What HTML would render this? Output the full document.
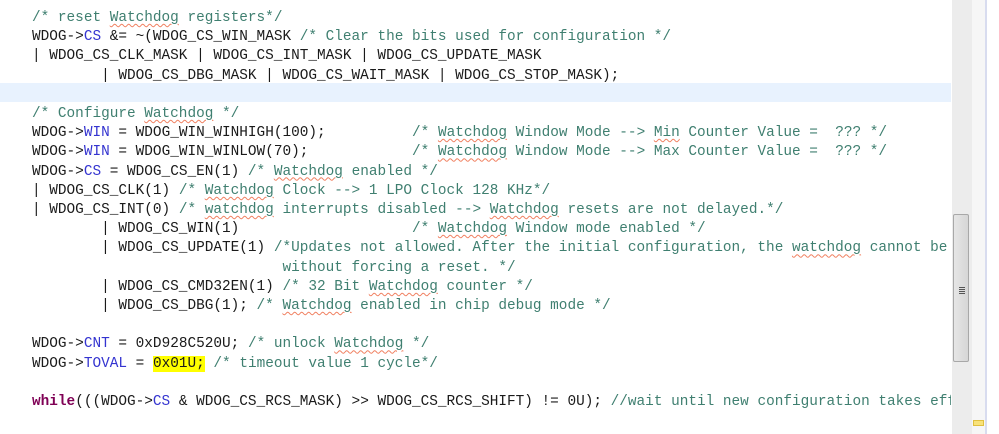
<!DOCTYPE html>
<html><head><meta charset="utf-8"><style>
html,body{margin:0;padding:0;width:999px;height:434px;overflow:hidden;background:#fff;}
.ed{position:absolute;left:0;top:0;width:951px;height:434px;overflow:hidden;}
.hl{position:absolute;left:0;top:83px;width:951px;height:19px;background:#e8f2fe;}
pre{position:absolute;left:32px;top:9px;margin:0;font-family:"Liberation Mono",monospace;font-size:14.4px;line-height:19.2px;color:#1a1a1a;white-space:pre;}
.c{color:#3f7f70;}
.f{color:#3434d0;}
.k{color:#7f0055;font-weight:bold;}
.s{text-decoration:underline wavy #f08060;text-decoration-thickness:1px;text-underline-offset:2px;}
.y{background:#ffff00;}
.trk{position:absolute;left:952px;top:0;width:20px;height:434px;background:#ececec;}
.th{position:absolute;left:953px;top:214px;width:16px;height:148px;background:linear-gradient(90deg,#e6e6e6,#d6d6d6);border:1px solid #a8a8a8;border-radius:2px;box-sizing:border-box;}
.g{position:absolute;left:972px;top:0;width:13px;height:434px;background:#f6f6f6;}
.ln{position:absolute;left:985px;top:0;width:2px;height:434px;background:#d8dcef;}
.gr{position:absolute;left:959px;top:287px;width:6px;height:1px;background:#555;box-shadow:0 2px 0 #555,0 4px 0 #555,0 6px 0 #555;}
.mk{position:absolute;left:973px;top:420px;width:9px;height:4px;background:#f8e27a;border:1px solid #e0c040;}
</style></head><body>
<div class="ed"><div class="hl"></div>
<pre><span class="c">/* reset <span class="s">Watchdog</span> registers*/</span>
WDOG-&gt;<span class="f">CS</span> &amp;= ~(WDOG_CS_WIN_MASK <span class="c">/* Clear the bits used for configuration */</span>
| WDOG_CS_CLK_MASK | WDOG_CS_INT_MASK | WDOG_CS_UPDATE_MASK
        | WDOG_CS_DBG_MASK | WDOG_CS_WAIT_MASK | WDOG_CS_STOP_MASK);

<span class="c">/* Configure <span class="s">Watchdog</span> */</span>
WDOG-&gt;<span class="f">WIN</span> = WDOG_WIN_WINHIGH(100);          <span class="c">/* <span class="s">Watchdog</span> Window Mode --&gt; <span class="s">Min</span> Counter Value =  ??? */</span>
WDOG-&gt;<span class="f">WIN</span> = WDOG_WIN_WINLOW(70);            <span class="c">/* <span class="s">Watchdog</span> Window Mode --&gt; Max Counter Value =  ??? */</span>
WDOG-&gt;<span class="f">CS</span> = WDOG_CS_EN(1) <span class="c">/* <span class="s">Watchdog</span> enabled */</span>
| WDOG_CS_CLK(1) <span class="c">/* <span class="s">Watchdog</span> Clock --&gt; 1 LPO Clock 128 KHz*/</span>
| WDOG_CS_INT(0) <span class="c">/* <span class="s">watchdog</span> interrupts disabled --&gt; <span class="s">Watchdog</span> resets are not delayed.*/</span>
        | WDOG_CS_WIN(1)                    <span class="c">/* <span class="s">Watchdog</span> Window mode enabled */</span>
        | WDOG_CS_UPDATE(1) <span class="c">/*Updates not allowed. After the initial configuration, the <span class="s">watchdog</span> cannot be later modified</span>
<span class="c">                             without forcing a reset. */</span>
        | WDOG_CS_CMD32EN(1) <span class="c">/* 32 Bit <span class="s">Watchdog</span> counter */</span>
        | WDOG_CS_DBG(1); <span class="c">/* <span class="s">Watchdog</span> enabled in chip debug mode */</span>

WDOG-&gt;<span class="f">CNT</span> = 0xD928C520U; <span class="c">/* unlock <span class="s">Watchdog</span> */</span>
WDOG-&gt;<span class="f">TOVAL</span> = <span class="y">0x01U;</span> <span class="c">/* timeout value 1 cycle*/</span>

<span class="k">while</span>(((WDOG-&gt;<span class="f">CS</span> &amp; WDOG_CS_RCS_MASK) &gt;&gt; WDOG_CS_RCS_SHIFT) != 0U); <span class="c">//wait until new configuration takes effect</span></pre>
</div>
<div class="trk"></div><div class="th"></div><div class="gr"></div>
<div class="g"></div><div class="ln"></div><div class="mk"></div>
</body></html>
